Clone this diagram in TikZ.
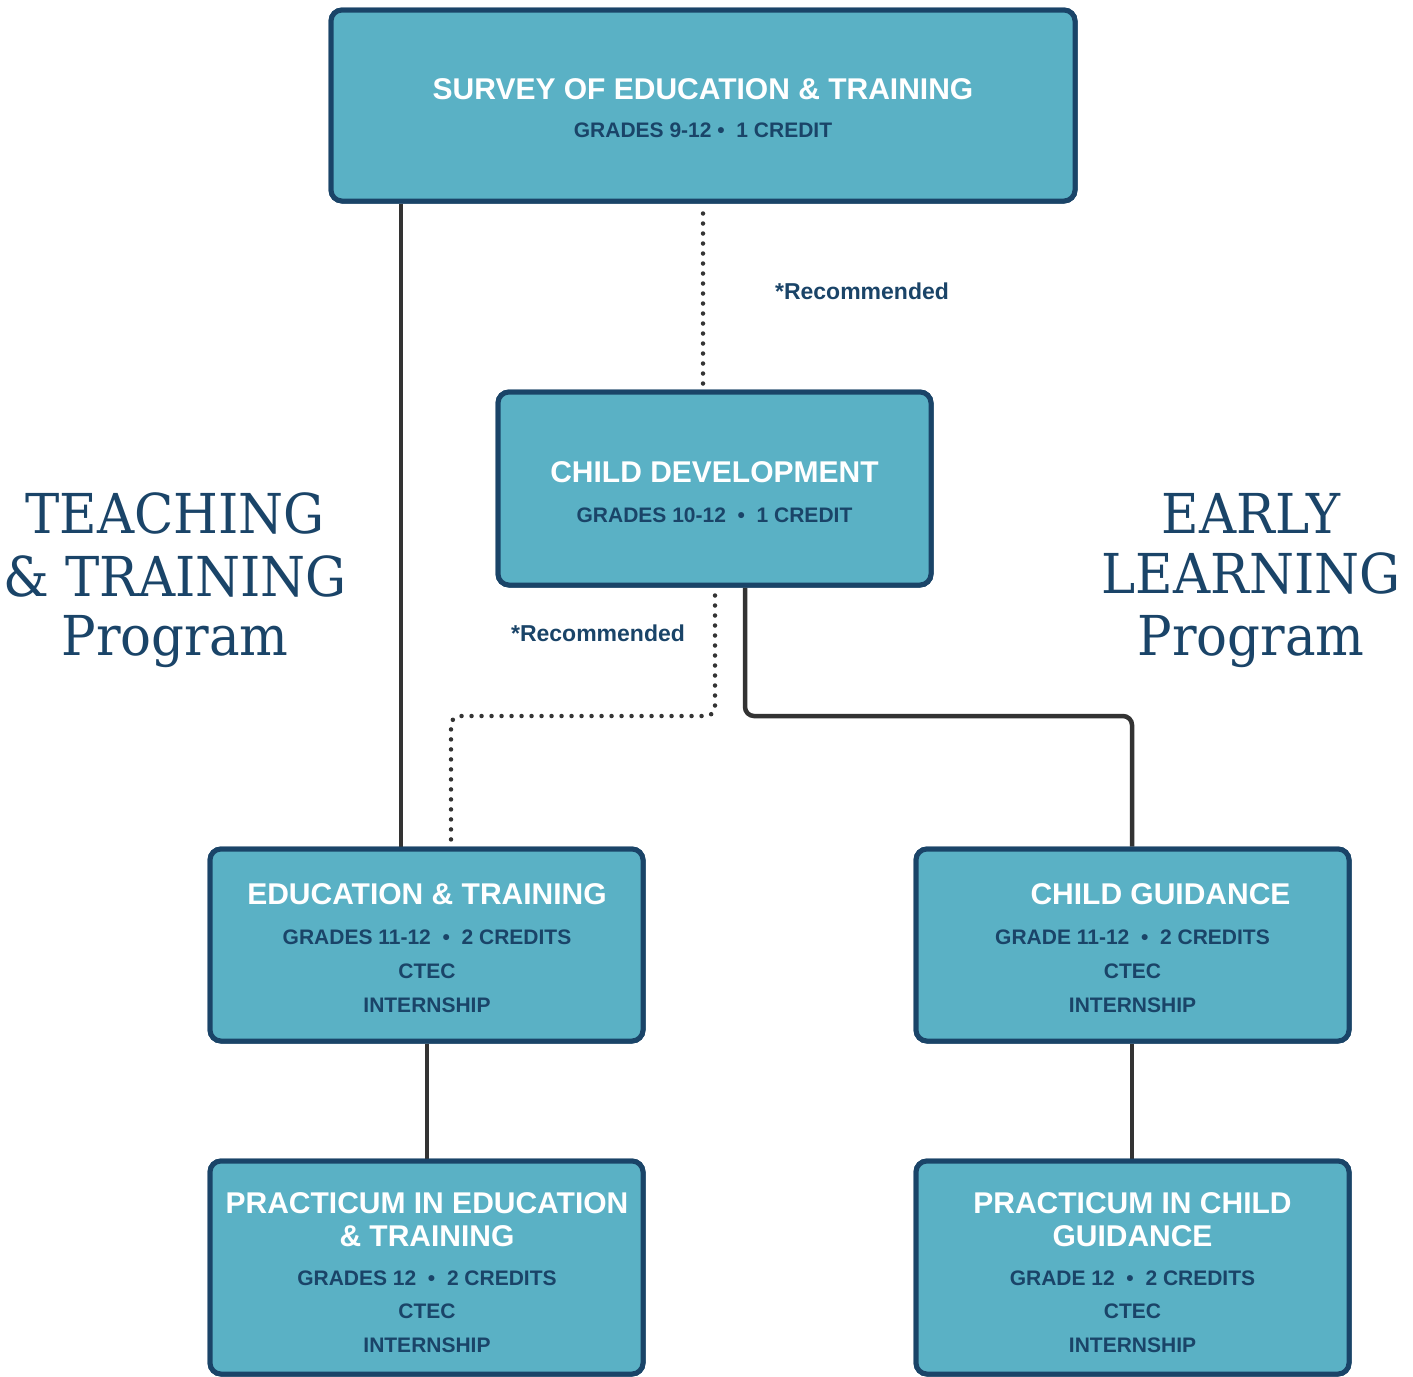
\documentclass[tikz,border=0pt]{standalone}
\usepackage{fontspec}
\usetikzlibrary{calc}
\newfontfamily\boxfont{Liberation Sans}
\newfontfamily\slabfont{DejaVu Serif}[FakeStretch=0.935]
\definecolor{boxfill}{HTML}{5AB1C5}
\definecolor{navy}{HTML}{1A4468}
\definecolor{wire}{HTML}{333333}
\tikzset{
  course/.style={draw=navy, fill=boxfill, line width=5pt, rounded corners=11pt, inner sep=0pt},
  ttl/.style={anchor=base, text=white, font=\boxfont\bfseries\fontsize{30}{30}\selectfont, inner sep=0pt},
  sub/.style={anchor=base, text=navy, font=\boxfont\bfseries\fontsize{21}{21}\selectfont, inner sep=0pt},
  rec/.style={anchor=base, text=navy, font=\boxfont\bfseries\fontsize{23}{23}\selectfont, inner sep=0pt},
  prog/.style={anchor=base, text=navy, font=\slabfont\fontsize{55}{55}\selectfont, inner sep=0pt},
  solidwire/.style={draw=wire, line width=4.5pt, rounded corners=9pt},
  dotwire/.style={draw=wire, line width=4.5pt, line cap=round, dash pattern=on 0pt off 10pt, rounded corners=9pt},
}
\begin{document}
\begin{tikzpicture}[x=1pt,y=-1pt]
\useasboundingbox (0,0) rectangle (1413,1376);
% vertical levels for connectors
\coordinate (xA) at (401,0);
\coordinate (xB) at (703,0);
\coordinate (xC) at (715,0);
\coordinate (xD) at (451,0);
\coordinate (xE) at (745,0);
\coordinate (xF) at (1132,0);
\coordinate (xG) at (427,0);
% boxes
\node[course, minimum width=744pt, minimum height=191pt] (survey) at (703,105.5) {};
\node[course, minimum width=433pt, minimum height=193pt] (cd) at (714.5,488.5) {};
\node[course, minimum width=433pt, minimum height=192pt] (et) at (426.5,945) {};
\node[course, minimum width=433pt, minimum height=192pt] (cg) at (1132.5,945) {};
\node[course, minimum width=433pt, minimum height=213pt] (pet) at (426.5,1267.5) {};
\node[course, minimum width=433pt, minimum height=213pt] (pcg) at (1132.5,1267.5) {};
% connectors
\coordinate (bendL) at (715,716);
\coordinate (bendL2) at (451,716);
\coordinate (bendR) at (745,716);
\coordinate (bendR2) at (1132,716);
\draw[solidwire] (survey.south -| xA) -- (et.north -| xA);
\draw[dotwire] ($(survey.south -| xB)+(0,10)$) -- ($(cd.north -| xB)+(0,-3)$);
\draw[dotwire] ($(cd.south -| xC)+(0,8)$) -- (bendL) -- (bendL2) -- ($(et.north -| xD)+(0,-4)$);
\draw[solidwire] (cd.south -| xE) -- (bendR) -- (bendR2) -- (cg.north -| xF);
\draw[solidwire] (et.south -| xG) -- (pet.north -| xG);
\draw[solidwire] (cg.south -| xF) -- (pcg.north -| xF);
% redraw boxes on top of connector ends
\node[course, minimum width=744pt, minimum height=191pt] at (survey) {};
\node[course, minimum width=433pt, minimum height=193pt] at (cd) {};
\node[course, minimum width=433pt, minimum height=192pt] at (et) {};
\node[course, minimum width=433pt, minimum height=192pt] at (cg) {};
\node[course, minimum width=433pt, minimum height=213pt] at (pet) {};
\node[course, minimum width=433pt, minimum height=213pt] at (pcg) {};
% texts
\node[ttl] (svt) at (703,99) {SURVEY OF EDUCATION \& TRAINING};
\node[sub] (svs) at (703,137) {GRADES 9-12 \textbullet\ \ 1 CREDIT};
\node[rec] (r1) at (862,299) {*Recommended};
\node[ttl] (cdt) at (714.5,482) {CHILD DEVELOPMENT};
\node[sub] (cds) at (714.5,522) {GRADES 10-12 \ \textbullet\ \ 1 CREDIT};
\node[rec] (r2) at (598,641) {*Recommended};
\node[ttl] (ett) at (427,904) {EDUCATION \& TRAINING};
\node[sub] (ets) at (427,944) {GRADES 11-12 \ \textbullet\ \ 2 CREDITS};
\node[sub] (etc) at (427,978) {CTEC};
\node[sub] (eti) at (427,1012) {INTERNSHIP};
\node[ttl] (cgt) at (1160.5,904) {CHILD GUIDANCE};
\node[sub] (cgs) at (1132.5,944) {GRADE 11-12 \ \textbullet\ \ 2 CREDITS};
\node[sub] (cgc) at (1132.5,978) {CTEC};
\node[sub] (cgi) at (1132.5,1012) {INTERNSHIP};
\node[ttl] (pett1) at (427,1213) {PRACTICUM IN EDUCATION};
\node[ttl] (pett2) at (427,1246) {\& TRAINING};
\node[sub] (pets) at (427,1285) {GRADES 12 \ \textbullet\ \ 2 CREDITS};
\node[sub] (petc) at (427,1318) {CTEC};
\node[sub] (peti) at (427,1352) {INTERNSHIP};
\node[ttl] (pcgt1) at (1132.5,1213) {PRACTICUM IN CHILD};
\node[ttl] (pcgt2) at (1132.5,1246) {GUIDANCE};
\node[sub] (pcgs) at (1132.5,1285) {GRADE 12 \ \textbullet\ \ 2 CREDITS};
\node[sub] (pcgc) at (1132.5,1318) {CTEC};
\node[sub] (pcgi) at (1132.5,1352) {INTERNSHIP};
% side labels
\node[prog] (tt1) at (175,533) {TEACHING};
\node[prog] (tt2) at (175,596) {\& TRAINING};
\node[prog] (tt3) at (175,655) {Program};
\node[prog] (el1) at (1251,533) {EARLY};
\node[prog] (el2) at (1251,593) {LEARNING};
\node[prog] (el3) at (1251,655) {Program};
\end{tikzpicture}
\end{document}
